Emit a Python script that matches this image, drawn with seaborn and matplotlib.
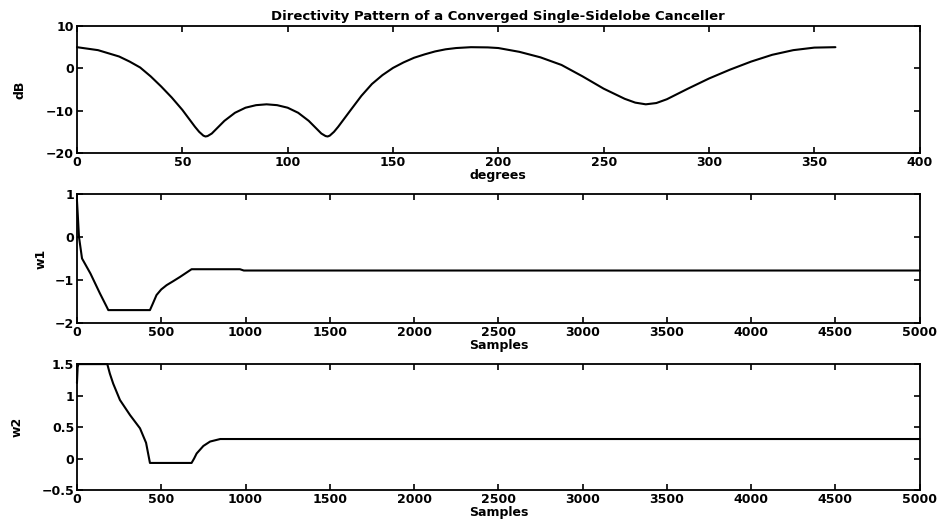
import numpy as np
import pandas as pd
import matplotlib
matplotlib.use("Agg")
import matplotlib.pyplot as plt
import seaborn as sns

# directivity pattern
deg = [0, 10, 20, 25, 30, 35, 40, 45, 50, 53, 56, 58, 60, 61, 62, 64, 67, 70, 75,
       80, 85, 90, 95, 100, 105, 110, 113, 116, 118, 119, 120, 122, 124, 127, 130,
       135, 140, 145, 150, 155, 160, 165, 170, 175, 180, 187, 195, 200, 210, 220,
       230, 240, 250, 260, 265, 270, 275, 280, 290, 300, 310, 320, 330, 340, 350, 360]
dB = [5.0, 4.3, 2.8, 1.6, 0.2, -1.9, -4.3, -6.9, -9.8, -11.8, -13.8, -15.0, -15.9,
      -16.1, -16.0, -15.4, -13.9, -12.4, -10.5, -9.3, -8.7, -8.5, -8.7, -9.3, -10.5,
      -12.4, -13.9, -15.4, -16.0, -16.1, -15.9, -15.0, -13.8, -11.8, -9.8, -6.5, -3.7,
      -1.6, 0.1, 1.4, 2.5, 3.3, 4.0, 4.5, 4.8, 5.0, 4.95, 4.8, 3.9, 2.6, 0.8, -1.9,
      -4.8, -7.2, -8.1, -8.5, -8.2, -7.3, -4.8, -2.4, -0.3, 1.6, 3.2, 4.3, 4.9, 5.0]

# weight trajectories
s_w1 = [0, 5, 12, 30, 80, 136, 176, 186, 433, 450, 472, 500, 532, 570, 611, 680, 967,
        990, 5000]
w1 = [0.85, 0.5, 0.0, -0.5, -0.85, -1.31, -1.62, -1.7, -1.7, -1.55, -1.35, -1.22,
      -1.12, -1.03, -0.93, -0.75, -0.75, -0.78, -0.78]

s_w2 = [0, 4, 8, 180, 195, 215, 255, 315, 374, 410, 433, 680, 695, 710, 750, 790,
        850, 5000]
w2 = [1.2, 1.45, 1.5, 1.5, 1.35, 1.19, 0.93, 0.69, 0.48, 0.25, -0.07, -0.07, 0.0,
      0.08, 0.2, 0.27, 0.31, 0.31]

sns.set_style("ticks")
plt.rcParams["font.family"] = ["DejaVu Sans"]
plt.rcParams["font.weight"] = "bold"
plt.rcParams["font.size"] = 9
for key in ("text.color", "axes.labelcolor", "xtick.color", "ytick.color"):
    plt.rcParams[key] = "black"

fig = plt.figure(figsize=(9.49, 5.29), dpi=100)
ax1 = fig.add_axes([0.0811, 0.7108, 0.888, 0.240])
ax2 = fig.add_axes([0.0811, 0.3894, 0.888, 0.244])
ax3 = fig.add_axes([0.0811, 0.0737, 0.888, 0.238])

for ax, xs, ys in ((ax1, deg, dB), (ax2, s_w1, w1), (ax3, s_w2, w2)):
    sns.lineplot(data=pd.DataFrame({"x": xs, "y": ys}), x="x", y="y", ax=ax,
                 color="black", lw=1.5, estimator=None, sort=False, clip_on=False)

ax1.set_xlim(0, 400)
ax1.set_ylim(-20, 10)
ax1.set_xticks(range(0, 401, 50))
ax1.set_yticks([-20, -10, 0, 10])
ax1.set_xlabel("degrees", labelpad=0, fontweight="bold")
ax1.set_ylabel("dB", fontweight="bold", labelpad=14)
ax1.set_title("Directivity Pattern of a Converged Single-Sidelobe Canceller",
              fontweight="bold", fontsize=9.5, pad=4)

ax2.set_xlim(0, 5000)
ax2.set_ylim(-2, 1)
ax2.set_xticks(range(0, 5001, 500))
ax2.set_yticks([-2, -1, 0, 1])
ax2.set_xlabel("Samples", labelpad=0, fontweight="bold")
ax2.set_ylabel("w1", fontweight="bold", labelpad=5)

ax3.set_xlim(0, 5000)
ax3.set_ylim(-0.5, 1.5)
ax3.set_xticks(range(0, 5001, 500))
ax3.set_yticks([-0.5, 0, 0.5, 1, 1.5])
ax3.set_yticklabels(["\u22120.5", "0", "0.5", "1", "1.5"])
ax3.set_xlabel("Samples", labelpad=0, fontweight="bold")
ax3.set_ylabel("w2", fontweight="bold", labelpad=13)

for ax in (ax1, ax2, ax3):
    ax.tick_params(direction="in", top=True, right=True, length=4, width=1.2,
                   pad=2, labelsize=9)
    for sp in ax.spines.values():
        sp.set_visible(True)
        sp.set_linewidth(1.3)
        sp.set_color("black")
    for lab in ax.get_xticklabels() + ax.get_yticklabels():
        lab.set_fontweight("bold")

fig.savefig("out.png", dpi=100)
